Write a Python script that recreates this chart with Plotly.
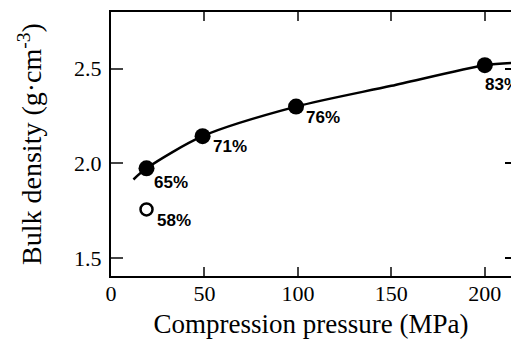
import plotly.graph_objects as go

# Measured points (compression pressure in MPa, bulk density g/cm3)
pressure = [19, 49, 99, 200]
density = [1.974, 2.144, 2.30, 2.519]
rel_density = ["65%", "71%", "76%", "83%"]

# Open-circle point
open_pressure = [19]
open_density = [1.757]
open_label = ["58%"]

# Fitted curve
curve_x = [12, 19, 49, 99, 150, 200, 214]
curve_y = [1.915, 1.974, 2.144, 2.30, 2.41, 2.519, 2.53]

x_ticks = [0, 50, 100, 150, 200]
y_ticks = [1.5, 2.0, 2.5]
y_ticklabels = ["1.5", "2.0", "2.5"]

# label offsets (px) relative to their point
label_shift = [(5, -14), (8, -10), (8, -11), (-2, -19)]
open_shift = [(8, -11)]

fig = go.Figure()
fig.add_trace(go.Scatter(x=curve_x, y=curve_y, mode="lines",
                         line=dict(color="black", width=2.5, shape="spline", smoothing=0.8),
                         showlegend=False, hoverinfo="skip"))
fig.add_trace(go.Scatter(x=pressure, y=density, mode="markers",
                         marker=dict(color="black", size=16), showlegend=False))
fig.add_trace(go.Scatter(x=open_pressure, y=open_density, mode="markers",
                         marker=dict(color="white", size=12, line=dict(color="black", width=2.5)),
                         showlegend=False))
# invisible trace to enable right-hand tick axis
fig.add_trace(go.Scatter(x=[None], y=[None], yaxis="y2", showlegend=False, hoverinfo="skip"))

lab_font = dict(family="Liberation Sans, Arial, sans-serif", size=17, color="black")
for x, y, t, (dx, dy) in zip(pressure, density, rel_density, label_shift):
    fig.add_annotation(x=x, y=y, text="<b>" + t + "</b>", showarrow=False, xanchor="left",
                       yanchor="middle", xshift=dx, yshift=dy, font=lab_font)
for x, y, t, (dx, dy) in zip(open_pressure, open_density, open_label, open_shift):
    fig.add_annotation(x=x, y=y, text="<b>" + t + "</b>", showarrow=False, xanchor="left",
                       yanchor="middle", xshift=dx, yshift=dy, font=lab_font)

serif = "Liberation Serif, Times New Roman, serif"
fig.update_layout(
    width=511, height=339,
    margin=dict(l=111, r=0, t=12, b=63),
    paper_bgcolor="white", plot_bgcolor="white",
    font=dict(family=serif, color="black"),
    xaxis=dict(range=[0, 214], tickvals=x_ticks, ticks="inside", ticklen=9, tickwidth=2,
               showline=True, linewidth=2, linecolor="black", mirror="ticks",
               showgrid=False, zeroline=False, tickfont=dict(size=22, family=serif),
               ticklabelstandoff=-3,
               title=dict(text="Compression pressure (MPa)", font=dict(size=27, family=serif),
                          standoff=9)),
    yaxis=dict(range=[1.405, 2.80], tickvals=y_ticks, ticktext=y_ticklabels, ticks="inside",
               ticklen=12, tickwidth=2, showline=True, linewidth=2, linecolor="black",
               mirror=False, showgrid=False, zeroline=False,
               tickfont=dict(size=22, family=serif), ticklabelstandoff=3,
               title=dict(text="Bulk density (g·cm<sup>-3</sup>)", font=dict(size=28, family=serif),
                          standoff=24)),
    yaxis2=dict(range=[1.405, 2.80], overlaying="y", side="right", tickvals=y_ticks,
                ticks="inside", ticklen=6, tickwidth=2, tickcolor="black",
                showticklabels=False, showline=False, showgrid=False, zeroline=False),
)
fig.write_html("out.html", config={"displayModeBar": False},
               post_script="document.body.style.margin='0';document.body.style.overflow='hidden';")
